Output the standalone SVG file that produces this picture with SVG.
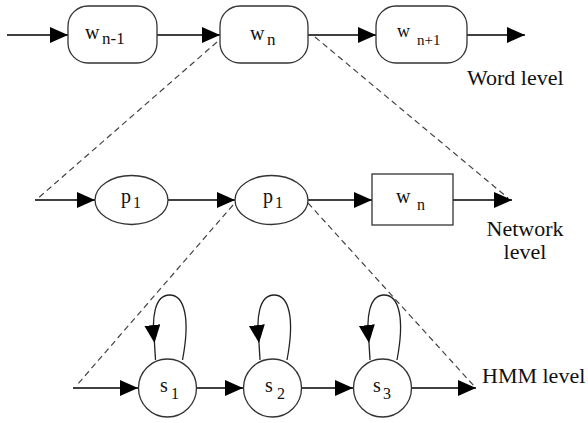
<svg xmlns="http://www.w3.org/2000/svg" width="588" height="423" viewBox="0 0 588 423">
<defs>
<marker id="ah" markerUnits="userSpaceOnUse" markerWidth="19" markerHeight="17" refX="18" refY="8" orient="auto">
<path d="M0,0 L18,8 L0,16 z" fill="#000"/>
</marker>
</defs>
<style>
.node{fill:#fff;stroke:#333;stroke-width:1.3}
.edge{fill:none;stroke:#000;stroke-width:1.4;marker-end:url(#ah)}
.loop{fill:none;stroke:#222;stroke-width:1.3}
.dash{fill:none;stroke:#444;stroke-width:1.2;stroke-dasharray:6,4}
.t{font-family:'Liberation Serif','Times New Roman','DejaVu Serif',serif;fill:#111}
.s{font-family:'Liberation Serif','Times New Roman',serif;fill:#111}
</style>
<rect width="588" height="423" fill="#fff"/>
<g id="connectors">
<line class="dash" x1="217" y1="42" x2="36" y2="200"/>
<line class="dash" x1="315" y1="37" x2="508" y2="198"/>
<line class="dash" x1="233" y1="205" x2="77" y2="385"/>
<line class="dash" x1="308" y1="203" x2="474" y2="386"/>
<line class="edge" x1="7" y1="35" x2="68" y2="35"/>
<line class="edge" x1="157" y1="35" x2="220" y2="35"/>
<line class="edge" x1="308" y1="35" x2="376" y2="35"/>
<line class="edge" x1="467" y1="35" x2="525" y2="35"/>
<line class="edge" x1="35" y1="200" x2="95" y2="200"/>
<line class="edge" x1="168" y1="200" x2="235" y2="200"/>
<line class="edge" x1="308" y1="200" x2="372" y2="200"/>
<line class="edge" x1="453" y1="200" x2="512" y2="200"/>
<line class="edge" x1="73" y1="388" x2="138" y2="388"/>
<line class="edge" x1="197" y1="388" x2="243" y2="388"/>
<line class="edge" x1="302" y1="388" x2="353" y2="388"/>
<line class="edge" x1="412" y1="388" x2="476" y2="388"/>
<g transform="translate(168.5,388)"><path class="loop" d="M14,-28 C22,-70 16,-93 1,-93 C-14,-93 -17,-70 -14,-45" style="marker-end:url(#ah)"/><path class="loop" d="M-14,-45 L-13,-28"/></g>
<g transform="translate(273,388)"><path class="loop" d="M14,-28 C22,-70 16,-93 1,-93 C-14,-93 -17,-70 -14,-45" style="marker-end:url(#ah)"/><path class="loop" d="M-14,-45 L-13,-28"/></g>
<g transform="translate(383,388)"><path class="loop" d="M14,-28 C22,-70 16,-93 1,-93 C-14,-93 -17,-70 -14,-45" style="marker-end:url(#ah)"/><path class="loop" d="M-14,-45 L-13,-28"/></g>
</g>
<g id="w_nm1"><rect class="node" x="68" y="6" width="89" height="57" rx="20"/><text class="t" x="85" y="39" font-size="20">w</text><text class="t" x="102" y="44" font-size="17">n-1</text></g>
<g id="w_n"><rect class="node" x="220" y="6" width="88" height="57" rx="20"/><text class="t" x="250" y="40" font-size="20">w</text><text class="t" x="267" y="45" font-size="17">n</text></g>
<g id="w_np1"><rect class="node" x="376" y="6" width="91" height="57" rx="20"/><text class="t" x="397" y="37" font-size="18">w</text><text class="t" x="417" y="45" font-size="15">n+1</text></g>
<g id="p1a"><ellipse class="node" cx="131.5" cy="200" rx="36.5" ry="24.5"/><text class="t" x="121" y="203" font-size="20">p</text><text class="t" x="133" y="208" font-size="16">1</text></g>
<g id="p1b"><ellipse class="node" cx="271.5" cy="200" rx="36.5" ry="24.5"/><text class="t" x="263" y="203" font-size="20">p</text><text class="t" x="275" y="208" font-size="16">1</text></g>
<g id="w_n_net"><rect class="node" x="372" y="174" width="81" height="51"/><text class="t" x="396" y="203" font-size="20">w</text><text class="t" x="417" y="210" font-size="16">n</text></g>
<g id="s1"><circle class="node" cx="167.5" cy="388" r="29"/><text class="s" x="160" y="392" font-size="20">s</text><text class="s" x="171" y="399" font-size="16">1</text></g>
<g id="s2"><circle class="node" cx="272.5" cy="388" r="29"/><text class="s" x="265" y="392" font-size="20">s</text><text class="s" x="277" y="399" font-size="16">2</text></g>
<g id="s3"><circle class="node" cx="382.5" cy="388" r="29"/><text class="s" x="373" y="392" font-size="20">s</text><text class="s" x="383" y="399" font-size="16">3</text></g>
<g id="labels">
<text class="t" x="467" y="85" font-size="22">Word level</text>
<text class="t" x="525" y="236" font-size="22" text-anchor="middle">Network</text>
<text class="t" x="525" y="259" font-size="22" text-anchor="middle">level</text>
<text class="t" x="482" y="383" font-size="22">HMM level</text>
</g>
</svg>
